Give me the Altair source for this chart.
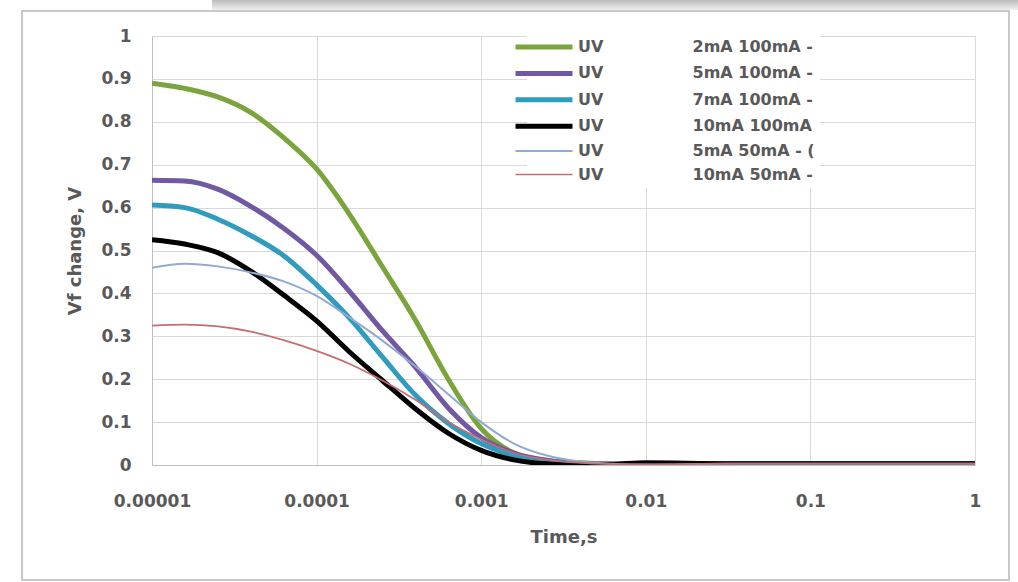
import altair as alt
import pandas as pd

# ---- data ----
times = [1e-5, 1.58e-5, 2.51e-5, 3.98e-5, 6.31e-5, 1e-4, 1.58e-4, 2.51e-4, 3.98e-4,
         6.31e-4, 1e-3, 1.58e-3, 2.51e-3, 3.98e-3, 6.31e-3, 1e-2, 3.16e-2, 0.1, 0.316, 1.0]

uv_2ma_100 = [0.890, 0.878, 0.858, 0.822, 0.763, 0.690, 0.585, 0.462, 0.338, 0.200,
              0.085, 0.028, 0.010, 0.005, 0.002, 0.001, 0.003, 0.003, 0.003, 0.003]
uv_5ma_100 = [0.664, 0.662, 0.643, 0.603, 0.552, 0.489, 0.405, 0.313, 0.228, 0.133,
              0.064, 0.028, 0.011, 0.004, 0.002, 0.002, 0.003, 0.003, 0.003, 0.003]
uv_7ma_100 = [0.606, 0.600, 0.573, 0.535, 0.488, 0.420, 0.343, 0.252, 0.163, 0.097,
              0.050, 0.022, 0.008, 0.003, 0.001, 0.001, 0.003, 0.003, 0.003, 0.003]
uv_10ma_100 = [0.525, 0.515, 0.495, 0.452, 0.396, 0.336, 0.264, 0.197, 0.131, 0.074,
               0.034, 0.012, 0.003, 0.001, 0.002, 0.005, 0.003, 0.003, 0.003, 0.003]
uv_5ma_50 = [0.460, 0.469, 0.463, 0.449, 0.428, 0.394, 0.344, 0.290, 0.230, 0.165,
             0.100, 0.050, 0.022, 0.008, 0.003, 0.001, 0.003, 0.003, 0.003, 0.003]
uv_10ma_50 = [0.325, 0.327, 0.323, 0.311, 0.291, 0.266, 0.236, 0.197, 0.152, 0.100,
              0.060, 0.028, 0.012, 0.005, 0.002, 0.001, 0.003, 0.003, 0.003, 0.003]

GAP = "\u00a0" * 16
series_names = [
    "UV" + GAP + "2mA 100mA -",
    "UV" + GAP + "5mA 100mA -",
    "UV" + GAP + "7mA 100mA -",
    "UV" + GAP + "10mA 100mA",
    "UV" + GAP + "5mA 50mA - (",
    "UV" + GAP + "10mA 50mA -",
]
series_values = [uv_2ma_100, uv_5ma_100, uv_7ma_100, uv_10ma_100, uv_5ma_50, uv_10ma_50]
series_colors = ["#7AA53C", "#7158A3", "#2F9BBD", "#000000", "#90AAD2", "#C76C72"]
series_widths = [5, 5, 5, 5, 2, 1.7]

x_tick_values = [1e-5, 1e-4, 1e-3, 1e-2, 1e-1, 1]
x_tick_labels = ["0.00001", "0.0001", "0.001", "0.01", "0.1", "1"]
y_tick_values = [0, 0.1, 0.2, 0.3, 0.4, 0.5, 0.6, 0.7, 0.8, 0.9, 1]

rows = []
for name, vals in zip(series_names, series_values):
    for t, v in zip(times, vals):
        rows.append({"time": t, "vf": v, "series": name})
df = pd.DataFrame(rows)

label_expr = " : ".join(
    f"abs(log(datum.value)/log(10) - ({i - 5})) < 0.01 ? '{lab}'" for i, lab in enumerate(x_tick_labels)
) + " : ''"

FONT = "DejaVu Sans"
GREY = "#595959"
W, H = 823, 429

lines = alt.Chart(df).mark_line(interpolate="monotone", clip=True).encode(
    x=alt.X("time:Q",
            scale=alt.Scale(type="log", domain=[1e-5, 1], nice=False),
            axis=alt.Axis(values=x_tick_values, labelExpr=label_expr, title="Time,s",
                          grid=True, gridColor="#d9d9d9", domainColor="#bfbfbf",
                          ticks=False, labelPadding=28, titlePadding=19, labelFlush=False,
                          labelFontSize=17, titleFontSize=18)),
    y=alt.Y("vf:Q",
            scale=alt.Scale(domain=[0, 1], nice=False),
            axis=alt.Axis(values=y_tick_values, format="~g", title="Vf change, V",
                          grid=True, gridColor="#d9d9d9", domainColor="#bfbfbf",
                          ticks=False, labelPadding=21, titlePadding=16, labelFlush=False,
                          labelFontSize=17, titleFontSize=18)),
    color=alt.Color("series:O", sort=series_names,
                    scale=alt.Scale(type="ordinal", domain=series_names, range=series_colors),
                    legend=alt.Legend(orient="none", legendX=375, legendY=-6, title=None,
                                      symbolType="M-3,0H3", symbolSize=361,
                                      labelFont=FONT, labelFontSize=16, labelFontWeight="bold",
                                      labelColor=GREY, labelLimit=600, labelOffset=22,
                                      fillColor="white", padding=5, rowPadding=4.4)),
    strokeWidth=alt.StrokeWidth("series:O", sort=series_names,
                                scale=alt.Scale(type="ordinal", domain=series_names,
                                                range=series_widths)),
)

one = alt.Data(values=[{"k": 1}])
frame = alt.Chart(one).mark_rect(fillOpacity=0, stroke="#c8c8c8", strokeWidth=2).encode(
    x=alt.value(-130), x2=alt.value(857), y=alt.value(-25), y2=alt.value(544))
shadow = alt.Chart(one).mark_rect(
    color=alt.Gradient(gradient="linear", x1=0, x2=0, y1=0, y2=1,
                       stops=[alt.GradientStop(color="#bcbcbc", offset=0),
                              alt.GradientStop(color="#f0f0f0", offset=1)])
).encode(x=alt.value(60), x2=alt.value(866), y=alt.value(-36), y2=alt.value(-26))

chart = alt.layer(frame, shadow, lines).properties(
    width=W, height=H,
    autosize=alt.AutoSizeParams(type="none"),
    padding={"left": 152, "top": 36, "right": 43, "bottom": 117},
    background="white",
).configure_view(stroke=None).configure_axis(
    labelFont=FONT, titleFont=FONT, labelColor=GREY, titleColor=GREY,
    labelFontWeight="bold", titleFontWeight="bold",
)

chart.save("out.html", embed_options={"renderer": "svg", "actions": False})
